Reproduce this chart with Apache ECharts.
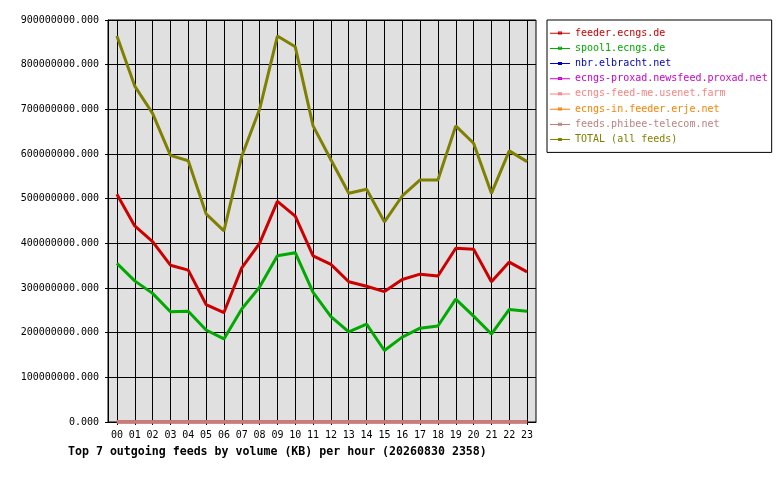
<!DOCTYPE html>
<html>
<head>
<meta charset="utf-8">
<title>Top 7 outgoing feeds</title>
<script src="https://cdn.jsdelivr.net/npm/echarts@6/dist/echarts.min.js"></script>
<style>
  html, body { margin: 0; padding: 0; background: #fff; }
  #chart { width: 780px; height: 480px; }
</style>
</head>
<body>
<div id="chart"></div>
<script>
var hours = ['00', '01', '02', '03', '04', '05', '06', '07', '08', '09', '10', '11',
             '12', '13', '14', '15', '16', '17', '18', '19', '20', '21', '22', '23'];

// KB per hour
var feederEcngs = [510000000, 439000000, 404000000, 351000000, 340000000, 263000000,
                   245000000, 345000000, 400000000, 494000000, 461000000, 372000000,
                   353000000, 314000000, 304000000, 292000000, 319000000, 331000000,
                   327000000, 389000000, 387000000, 314000000, 358000000, 336000000];
var spool1Ecngs = [355000000, 316000000, 288000000, 247000000, 248000000, 206000000,
                   186000000, 253000000, 302000000, 372000000, 379000000, 290000000,
                   236000000, 202000000, 219000000, 160000000, 190000000, 210000000,
                   215000000, 275000000, 237000000, 197000000, 252000000, 248000000];
var nbrElbracht = [0, 0, 0, 0, 0, 0, 0, 0, 0, 0, 0, 0, 0, 0, 0, 0, 0, 0, 0, 0, 0, 0, 0, 0];
var proxadNewsfeed = [0, 0, 0, 0, 0, 0, 0, 0, 0, 0, 0, 0, 0, 0, 0, 0, 0, 0, 0, 0, 0, 0, 0, 0];
var usenetFarm = [0, 0, 0, 0, 0, 0, 0, 0, 0, 0, 0, 0, 0, 0, 0, 0, 0, 0, 0, 0, 0, 0, 0, 0];
var erjeFeeder = [0, 0, 0, 0, 0, 0, 0, 0, 0, 0, 0, 0, 0, 0, 0, 0, 0, 0, 0, 0, 0, 0, 0, 0];
var phibeeTelecom = [0, 0, 0, 0, 0, 0, 0, 0, 0, 0, 0, 0, 0, 0, 0, 0, 0, 0, 0, 0, 0, 0, 0, 0];
var totalFeeds = [864000000, 752000000, 691000000, 597000000, 585000000, 466000000,
                  428000000, 595000000, 700000000, 864000000, 840000000, 663000000,
                  587000000, 512000000, 521000000, 448000000, 506000000, 542000000,
                  542000000, 663000000, 624000000, 512000000, 607000000, 583000000];

var feedNames = ['feeder.ecngs.de', 'spool1.ecngs.de', 'nbr.elbracht.net',
                 'ecngs-proxad.newsfeed.proxad.net', 'ecngs-feed-me.usenet.farm',
                 'ecngs-in.feeder.erje.net', 'feeds.phibee-telecom.net', 'TOTAL (all feeds)'];
var feedColors = ['#cc0000', '#00aa00', '#0000cc', '#cc00cc', '#ff8080', '#ff8000', '#c08080', '#808000'];
var feedValues = [feederEcngs, spool1Ecngs, nbrElbracht, proxadNewsfeed, usenetFarm,
                  erjeFeeder, phibeeTelecom, totalFeeds];

var MONO = '"DejaVu Sans Mono", "Liberation Mono", monospace';

$ready(function () {
    drawChart();
});

function $ready(fn) {
    if (document.readyState !== 'loading') fn();
    else document.addEventListener('DOMContentLoaded', fn);
}

function drawChart() {
    var series = [];
    var legendData = [];
    for (var i = 0; i < feedNames.length; i++) {
        series.push({
            name: feedNames[i],
            type: 'line',
            data: feedValues[i],
            color: feedColors[i],
            symbol: 'none',
            lineStyle: { width: 3, color: feedColors[i] },
            silent: true
        });
        legendData.push({
            name: feedNames[i],
            textStyle: { color: feedColors[i] }
        });
    }

    var option = {
        animation: false,
        backgroundColor: '#fff',
        title: {
            text: 'Top 7 outgoing feeds by volume (KB) per hour (20260830 2358)',
            left: 68,
            top: 446,
            padding: 0,
            textStyle: {
                fontFamily: MONO,
                fontSize: 11.6,
                fontWeight: 'bold',
                color: '#000'
            }
        },
        legend: {
            data: legendData,
            orient: 'vertical',
            left: 547,
            top: 20,
            padding: [7, 4, 7, 3],
            itemGap: 3.2,
            itemWidth: 20,
            itemHeight: 3,
            icon: 'path://M0,1.2 L20,1.2 L20,2.2 L0,2.2 Z M8,0 L12,0 L12,3 L8,3 Z M9,1 L9,2 L11,2 L11,1 Z',
            itemStyle: { borderWidth: 0 },
            selectedMode: false,
            borderColor: '#000',
            borderWidth: 1,
            backgroundColor: '#fff',
            textStyle: {
                fontFamily: MONO,
                fontSize: 10,
                lineHeight: 12
            }
        },
        grid: {
            left: 108,
            right: 244,
            top: 20,
            bottom: 58,
            show: true,
            backgroundColor: '#e0e0e0',
            borderColor: '#000',
            borderWidth: 1
        },
        xAxis: {
            type: 'category',
            data: hours,
            boundaryGap: true,
            axisLine: { lineStyle: { color: '#000', width: 1 } },
            axisTick: { show: true, alignWithLabel: true, length: 3, lineStyle: { color: '#000' } },
            axisLabel: {
                fontFamily: MONO,
                fontSize: 10,
                color: '#000',
                margin: 8,
                interval: 0
            },
            splitLine: { show: true, alignWithLabel: true, lineStyle: { color: '#000', width: 1 } }
        },
        yAxis: {
            type: 'value',
            min: 0,
            max: 900000000,
            interval: 100000000,
            axisLine: { show: true, lineStyle: { color: '#000', width: 1 } },
            axisTick: { show: true, length: 3, lineStyle: { color: '#000' } },
            axisLabel: {
                fontFamily: MONO,
                fontSize: 10,
                color: '#000',
                margin: 9,
                formatter: function (v) { return v.toFixed(3); }
            },
            splitLine: { show: true, lineStyle: { color: '#000', width: 1 } }
        },
        series: series
    };

    var myChart = echarts.init(document.getElementById('chart'));
    myChart.setOption(option, true);
}
</script>
</body>
</html>
